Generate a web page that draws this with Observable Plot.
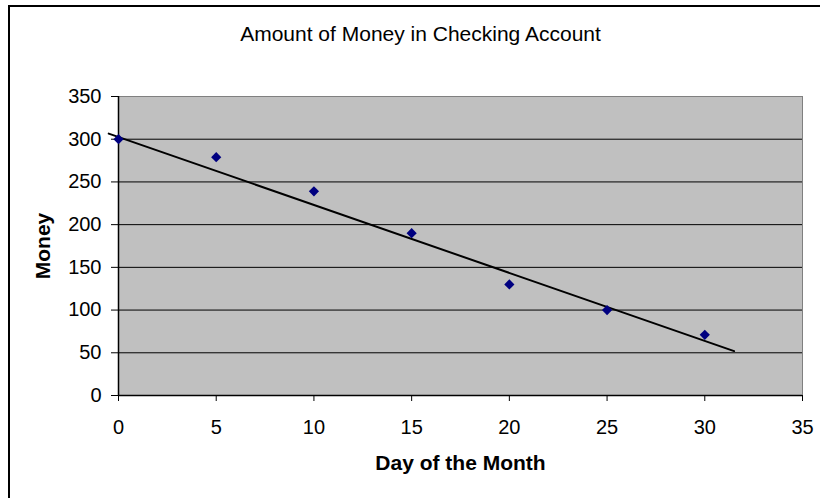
<!DOCTYPE html>
<html>
<head>
<meta charset="utf-8">
<script src="https://cdn.jsdelivr.net/npm/d3@7"></script>
<script src="https://cdn.jsdelivr.net/npm/@observablehq/plot@0.6"></script>
<style>
  html, body { margin: 0; padding: 0; background: #fff; overflow: hidden; }
  #wrap { position: relative; width: 820px; height: 498px; }
  #border { position: absolute; left: 8px; top: 4.5px; width: 900px; height: 600px; border: 2px solid #000; box-sizing: border-box; pointer-events: none; }
  svg { display: block; }
</style>
</head>
<body>
<div id="wrap"><div id="border"></div></div>
<script>
const title = "Amount of Money in Checking Account";
const xLabel = "Day of the Month";
const yLabel = "Money";
const days = [0, 5, 10, 15, 20, 25, 30];
const money = [300, 279, 239, 190, 130, 100, 71];
const trendDays = [-0.5, 31.5];
const trendMoney = [306.6, 52];
const xTicks = [0, 5, 10, 15, 20, 25, 30, 35];
const yTicks = [0, 50, 100, 150, 200, 250, 300, 350];
const gridTicks = [50, 100, 150, 200, 250, 300];

const points = days.map((d, i) => ({day: d, money: money[i]}));
const trend = trendDays.map((d, i) => ({day: d, money: trendMoney[i]}));

const font = "'Liberation Sans', Arial, sans-serif";

const chart = Plot.plot({
  width: 820,
  height: 498,
  marginLeft: 118,
  marginRight: 18,
  marginTop: 96,
  marginBottom: 103,
  style: {fontFamily: font, fontSize: "20px", color: "#000", background: "transparent"},
  x: {domain: [0, 35], ticks: xTicks},
  y: {domain: [0, 350], ticks: yTicks},
  marks: [
    Plot.frame({fill: "#c0c0c0", stroke: "#808080", strokeWidth: 1}),
    Plot.ruleY(gridTicks, {stroke: "#000", strokeWidth: 1}),
    Plot.ruleY([0], {stroke: "#000", strokeWidth: 1.5}),
    Plot.ruleX([0], {stroke: "#000", strokeWidth: 1.5}),
    Plot.axisX({ticks: xTicks, tickSize: 6, tickPadding: 18, label: null, stroke: "#000", fill: "#000", fontSize: 20}),
    Plot.axisY({ticks: yTicks, tickSize: 7, tickPadding: 10, label: null, stroke: "#000", fill: "#000", fontSize: 20}),
    Plot.line(trend, {x: "day", y: "money", stroke: "#000", strokeWidth: 2, clip: false}),
    Plot.dot(points, {x: "day", y: "money", symbol: "diamond2", r: 4.6, fill: "#000080", stroke: "none"}),
    Plot.text([title], {frameAnchor: "top", lineAnchor: "middle", dx: -40, dy: -62.5, fontSize: 21, fill: "#000"}),
    Plot.text([xLabel], {frameAnchor: "bottom", lineAnchor: "middle", dy: 68, fontSize: 21, fontWeight: "bold", fill: "#000"}),
    Plot.text([yLabel], {frameAnchor: "left", textAnchor: "middle", lineAnchor: "middle", dx: -75, rotate: -90, fontSize: 21, fontWeight: "bold", fill: "#000"})
  ]
});
document.getElementById("wrap").prepend(chart);
</script>
</body>
</html>
